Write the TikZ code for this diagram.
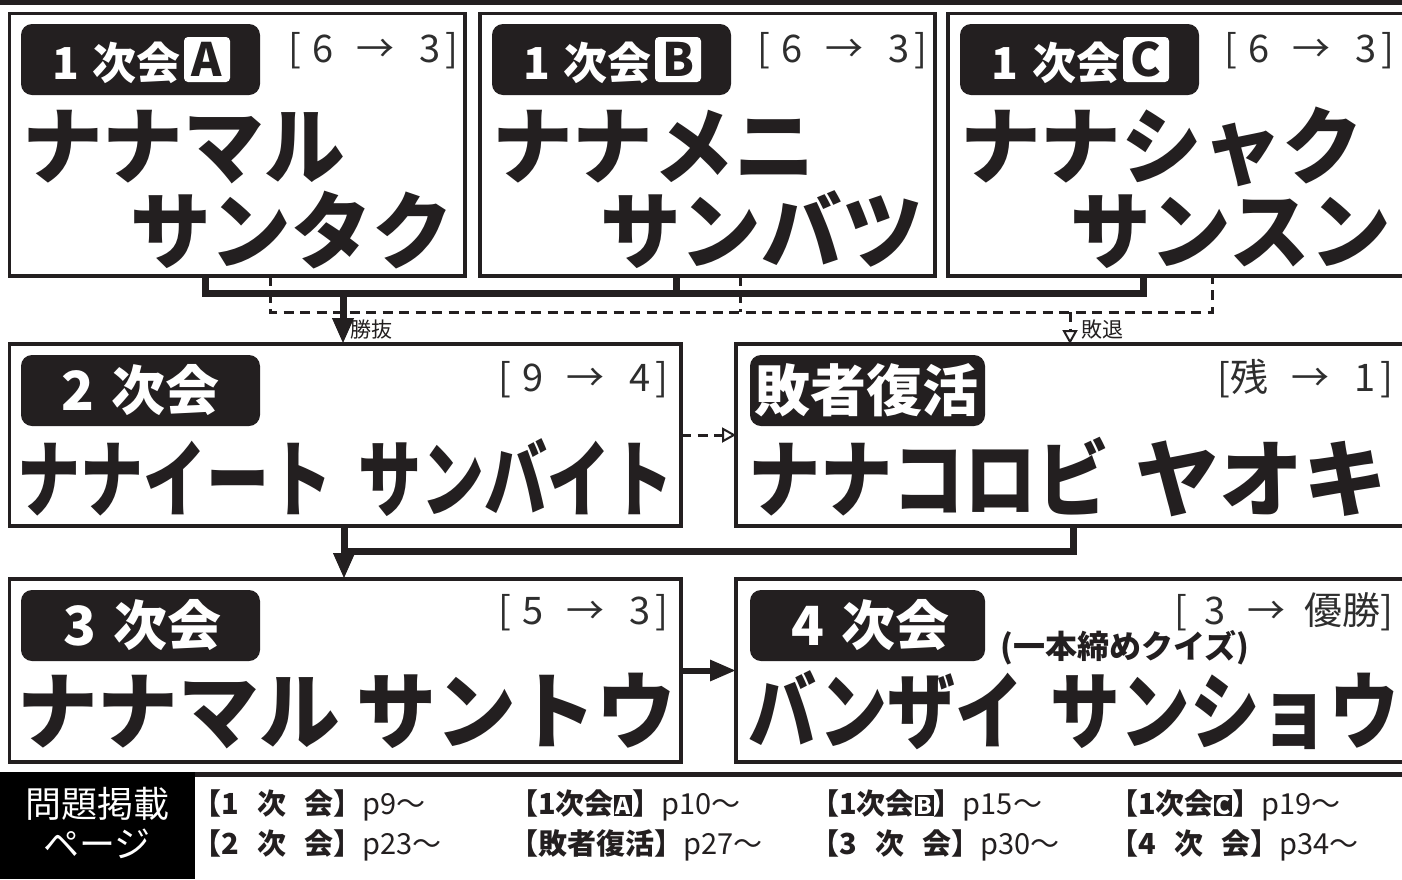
\documentclass[tikz,border=0pt]{standalone}
\usepackage{fontspec}
\usepackage{graphicx}
\setmainfont{Noto Sans CJK JP}
\usetikzlibrary{arrows.meta}
\definecolor{ink}{HTML}{231F20}
\definecolor{soft}{HTML}{2E2E2E}
\newcommand{\brk}[2]{[\hspace{.3em}#1\hspace{.6em}→\hspace{.65em}#2\hspace{.15em}]}
\newcommand{\invlet}[1]{{\setlength{\fboxsep}{1.5pt}\colorbox{ink}{\textcolor{white}{\fontsize{23}{23}\selectfont\bfseries #1}}}}
\newcommand{\tabk}[1]{{\bfseries【#1】}}
\newcommand{\sx}[2]{\scalebox{#1}[1]{#2}}
\begin{document}
\begin{tikzpicture}[x=1pt,y=-1pt,
  stagebox/.style={draw=ink,line width=3.2pt,outer sep=0pt,inner sep=0pt,anchor=north west},
  badge/.style={fill=ink,rounded corners=11pt,minimum height=71pt,inner sep=0pt,outer sep=0pt,anchor=north west},
  badgetext/.style={text=white,font=\fontsize{44}{44}\selectfont\bfseries,inner sep=0pt,anchor=base west},
  badgebig/.style={badgetext,font=\fontsize{54}{54}\selectfont\bfseries},
  letterbox/.style={fill=white,text=ink,rounded corners=4pt,minimum width=46pt,minimum height=45pt,inner sep=0pt,font=\fontsize{46}{46}\selectfont\bfseries},
  tally/.style={text=soft,font=\fontsize{38}{38}\selectfont,inner sep=0pt,anchor=base east},
  bigname/.style={text=ink,font=\fontsize{84}{84}\selectfont\bfseries,inner sep=0pt,anchor=base west},
  bus/.style={draw=ink,line width=7pt,line join=miter,line cap=butt},
  loser/.style={draw=ink,line width=3pt,dash pattern=on 10pt off 6.5pt},
  winarrow/.style={bus,-{Triangle[length=26pt,width=20pt]}},
  losearrow/.style={loser,-{Triangle[open,length=14pt,width=15pt,line width=2pt]}},
  small/.style={text=ink,font=\fontsize{21}{21}\selectfont,inner sep=0pt,anchor=west},
  tab/.style={text=ink,font=\fontsize{29}{29}\selectfont,inner sep=0pt,anchor=base west},
  headcell/.style={text=white,font=\fontsize{36}{36}\selectfont,inner sep=0pt,anchor=base},
]
\useasboundingbox (0,0) rectangle (1402,879);
\clip (0,0) rectangle (1402,879);
\fill[white] (0,0) rectangle (1402,879);
\fill[ink] (0,0) rectangle (1402,5);

% ---------- stage boxes ----------
\node[stagebox,minimum width=455.5pt,minimum height=262.5pt] (A) at (9.5,13.5) {};
\node[stagebox,minimum width=455pt,minimum height=262.5pt] (B) at (480,13.5) {};
\node[stagebox,minimum width=460pt,minimum height=262.5pt] (C) at (948,13.5) {};
\node[stagebox,minimum width=671.5pt,minimum height=182pt] (n2) at (9.5,344) {};
\node[stagebox,minimum width=672pt,minimum height=182pt] (fr) at (736,344) {};
\node[stagebox,minimum width=671.5pt,minimum height=183pt] (n3) at (9.5,579) {};
\node[stagebox,minimum width=672pt,minimum height=183pt] (n4) at (736,579) {};

% ---------- badges ----------
\node[badge,minimum width=239pt] (bA) at (21,24) {};
\node[badgetext] (bAt) at (52,79) {1\hspace{14pt}次会};
\node[letterbox] (bAl) at (207,59.5) {A};
\node[badge,minimum width=239pt] (bB) at (492,24) {};
\node[badgetext] (bBt) at (523,79) {1\hspace{14pt}次会};
\node[letterbox] (bBl) at (678,59.5) {B};
\node[badge,minimum width=239pt] (bC) at (960,24) {};
\node[badgetext] (bCt) at (991,79) {1\hspace{14pt}次会};
\node[letterbox] (bCl) at (1146,59.5) {C};

\node[badge,minimum width=239pt] (b2) at (21,355) {};
\node[badgebig] (b2t) at (61,410) {2\hspace{17pt}次会};
\node[badge,minimum width=235pt] (bf) at (750,355) {};
\node[badgebig,font=\fontsize{56}{56}\selectfont\bfseries] (bft) at (754,411) {敗者復活};
\node[badge,minimum width=239pt] (b3) at (21,590) {};
\node[badgebig] (b3t) at (63,645) {3\hspace{17pt}次会};
\node[badge,minimum width=235pt] (b4) at (750,590) {};
\node[badgebig] (b4t) at (791,645) {4\hspace{17pt}次会};

% ---------- tallies ----------
\node[tally] (kA) at (459,62) {\brk{6}{3}};
\node[tally] (kB) at (928,62) {\brk{6}{3}};
\node[tally] (kC) at (1395,62) {\brk{6}{3}};
\node[tally] (k2) at (669,391) {\brk{9}{4}};
\node[tally] (kf) at (1394,391) {[残\hspace{.6em}→\hspace{.65em}1\hspace{.15em}]};
\node[tally] (k3) at (669,624) {\brk{5}{3}};
\node[tally] (k4) at (1394,624) {[\hspace{.45em}3\hspace{.6em}→\hspace{.5em}優勝]};

% ---------- names ----------
\node[bigname] (nA1) at (22,177) {\sx{0.96}{ナナマル}};
\node[bigname] (nA2) at (130,262) {\sx{0.96}{サンタク}};
\node[bigname] (nB1) at (492,177) {\sx{0.96}{ナナメニ}};
\node[bigname] (nB2) at (600,262) {\sx{0.96}{サンバツ}};
\node[bigname] (nC1) at (960,177) {\sx{0.96}{ナナシャク}};
\node[bigname] (nC2) at (1070,262) {\sx{0.96}{サンスン}};
\node[bigname] (n2t) at (17,510) {\sx{0.75}{ナナイート}\hspace{26pt}\sx{0.75}{サンバイト}};
\node[bigname] (frt) at (748,510) {\sx{0.86}{ナナコロビ}\hspace{26pt}\sx{1.0}{ヤオキ}};
\node[bigname] (n3t) at (17,742) {\sx{0.96}{ナナマル}\hspace{17pt}\sx{0.95}{サントウ}};
\node[bigname] (n4t) at (748,742) {\sx{0.81}{バンザイ}\hspace{27pt}\sx{0.83}{サンショウ}};
\node[bigname,font=\fontsize{32}{32}\selectfont\bfseries] (n4s) at (1000,658) {(一本締めクイズ)};

% ---------- connectors ----------
\coordinate (jA) at (205,293);
\coordinate (jB) at (676,293);
\coordinate (jC) at (1143,293);
\coordinate (jW) at (343,293);
\coordinate (dA) at (270,312);
\coordinate (dB) at (740,312);
\coordinate (dC) at (1212,312);
\coordinate (dD) at (1070,312);
\draw[loser] (A.south -| dA) -- (dA) -- (dC) -- (C.south -| dC);
\draw[loser] (B.south -| dB) -- (dB);
\draw[losearrow] (dD) -- (dD |- fr.north);
\draw[bus] (A.south -| jA) -- (jA) -- (jC) -- (C.south -| jC);
\draw[bus] (B.south -| jB) -- (jB);
\draw[winarrow] (jW) -- (jW |- n2.north);
\node[small] (lwin) at (350,330) {勝抜};
\node[small] (llose) at (1081,330) {敗退};

\draw[losearrow] (n2.east) -- (fr.west);

\coordinate (k2j) at (344,551);
\coordinate (kRj) at (1073,551);
\draw[bus] (fr.south -| kRj) -- (kRj) -- (k2j);
\draw[winarrow] (n2.south -| k2j) -- (n3.north -| k2j);
\draw[winarrow,line width=6pt] (n3.east) -- (n4.west);

% ---------- page table ----------
\draw[ink,line width=5pt] (0,774.5) -- (1402,774.5);
\fill[black] (0,772) rectangle (195,879);
\node[headcell] (h1) at (97,817) {問題掲載};
\node[headcell] (h2) at (97,857) {ページ};
\node[tab] (t11) at (192,814) {\tabk{\makebox[112pt][s]{1 次 会}}p9～};
\node[tab] (t12) at (509,814) {\tabk{1次会\invlet{A}}p10～};
\node[tab] (t13) at (810,814) {\tabk{1次会\invlet{B}}p15～};
\node[tab] (t14) at (1109,814) {\tabk{1次会\invlet{C}}p19～};
\node[tab] (t21) at (192,854) {\tabk{\makebox[112pt][s]{2 次 会}}p23～};
\node[tab] (t22) at (509,854) {\tabk{敗者復活}p27～};
\node[tab] (t23) at (810,854) {\tabk{\makebox[112pt][s]{3 次 会}}p30～};
\node[tab] (t24) at (1109,854) {\tabk{\makebox[112pt][s]{4 次 会}}p34～};
\end{tikzpicture}
\end{document}
